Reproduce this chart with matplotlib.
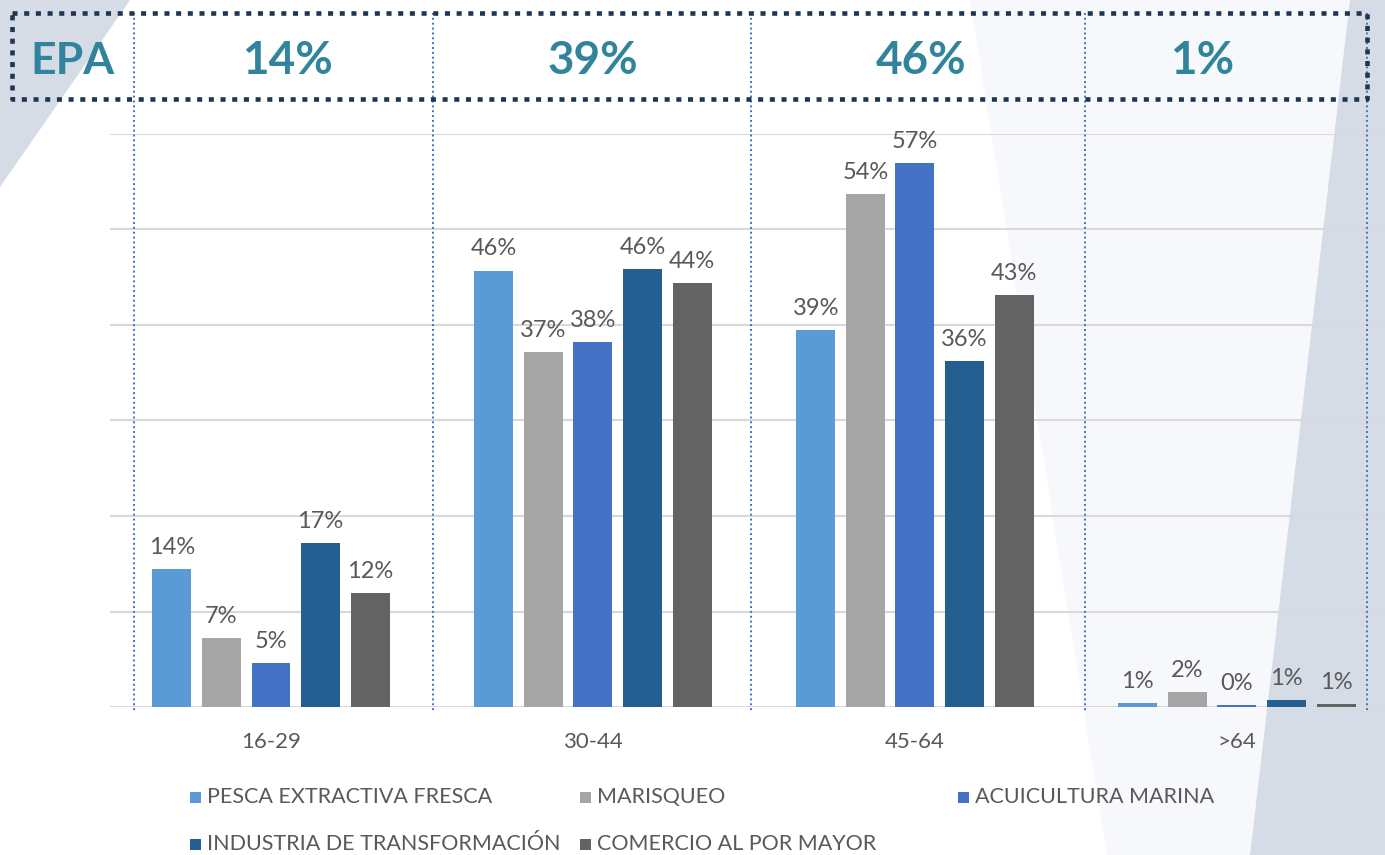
import numpy as np
import matplotlib
matplotlib.use("Agg")
import matplotlib.pyplot as plt
from matplotlib.patches import Polygon, Rectangle
from matplotlib.lines import Line2D

# DATA
grupos = ["16-29", "30-44", "45-64", ">64"]
series = ["PESCA EXTRACTIVA FRESCA", "MARISQUEO", "ACUICULTURA MARINA",
          "INDUSTRIA DE TRANSFORMACIÓN", "COMERCIO AL POR MAYOR"]
pesca = [14.4, 45.7, 39.5, 0.4]
marisqueo = [7.2, 37.2, 53.7, 1.6]
acuicultura = [4.6, 38.2, 57.0, 0.2]
industria = [17.2, 45.9, 36.2, 0.7]
comercio = [11.9, 44.4, 43.1, 0.3]
etiquetas = [
    ["14%", "46%", "39%", "1%"],
    ["7%", "37%", "54%", "2%"],
    ["5%", "38%", "57%", "0%"],
    ["17%", "46%", "36%", "1%"],
    ["12%", "44%", "43%", "1%"],
]
epa = ["14%", "39%", "46%", "1%"]

colores = ["#5b9bd5", "#a5a5a5", "#4472c4", "#255e91", "#636363"]
TEAL = "#31849b"
GRIS = "#595959"

plt.rcParams["font.family"] = ["Lato", "DejaVu Sans"]

W, H = 1385, 855
fig = plt.figure(figsize=(W / 100, H / 100), dpi=100)
fig.patch.set_facecolor("white")


def fx(x):
    return x / W


def fy(y):
    return 1 - y / H


# FONDO
fondo = [
    ([(0, 0), (130, 0), (0, 187)], "#d5dce6"),
    ([(970, 0), (1350, 0), (1250, 855), (1107, 855)], "#f6f8fc"),
    ([(1350, 0), (1385, 0), (1385, 855), (1250, 855)], "#d5dce6"),
]
for pts, col in fondo:
    fig.patches.append(Polygon([(fx(a), fy(b)) for a, b in pts], closed=True,
                               transform=fig.transFigure, facecolor=col,
                               edgecolor="none", zorder=-5))

# EJES
ax = fig.add_axes([fx(110), fy(707), 1 - fx(110), fy(134) - fy(707)])
ax.set_facecolor("none")

x = np.arange(len(grupos))
valores = [pesca, marisqueo, acuicultura, industria, comercio]
paso = 0.154
ancho = 0.121
for i, (vals, col) in enumerate(zip(valores, colores)):
    pos = x + (i - 2) * paso
    barras = ax.bar(pos, vals, ancho, color=col, zorder=3, label=series[i])
    for b, lab in zip(barras, etiquetas[i]):
        ax.annotate(lab, (b.get_x() + b.get_width() / 2, b.get_height()),
                    xytext=(0, 8), textcoords="offset points",
                    ha="center", va="bottom", fontsize=17, color=GRIS)

ax.set_xlim(-0.5, 3.46)
ax.set_ylim(0, 60)
ax.set_yticks(np.arange(0, 61, 10))
ax.yaxis.grid(True, color="#d9d9d9", linewidth=1.5, zorder=0)
ax.set_yticklabels([])
ax.tick_params(axis="y", length=0)
ax.set_xticks(x)
ax.set_xticklabels(grupos, fontsize=16, color=GRIS)
ax.tick_params(axis="x", length=0, pad=18)
for s in ax.spines.values():
    s.set_visible(False)

# LINEAS VERTICALES PUNTEADAS
for xv in [134, 433, 751, 1085, 1367]:
    fig.lines.append(Line2D([fx(xv), fx(xv)], [fy(13), fy(712)],
                            transform=fig.transFigure, color="#4472c4",
                            linewidth=1.4, linestyle=(0, (1, 1.5)), zorder=4))

# CAJA EPA
caja = Line2D([fx(12), fx(1367), fx(1367), fx(12), fx(12)],
              [fy(13), fy(13), fy(99), fy(99), fy(13)],
              transform=fig.transFigure, color="#1f3550", linewidth=3.3,
              linestyle=(0, (1.1, 1.45)), dash_capstyle="butt", zorder=5)
fig.lines.append(caja)

fig.text(fx(72), fy(61), "EPA", ha="center", va="center", fontsize=32,
         fontweight="bold", color=TEAL)
for xt, t in zip([287, 593, 921, 1202], epa):
    fig.text(fx(xt), fy(61), t, ha="center", va="center", fontsize=33,
             fontweight="bold", color=TEAL)

# LEYENDA
ley_pos = [(190, 797), (580, 797), (958, 797), (190, 844), (580, 844)]
for (lx, ly), nombre, col in zip(ley_pos, series, colores):
    fig.patches.append(Rectangle((fx(lx), fy(ly + 6)), fx(11), fy(0) - fy(11),
                                 transform=fig.transFigure, facecolor=col,
                                 edgecolor="none", zorder=5))
    fig.text(fx(lx + 17), fy(ly), nombre, ha="left", va="center",
             fontsize=15.5, color=GRIS)

fig.savefig("out.png", dpi=100)
